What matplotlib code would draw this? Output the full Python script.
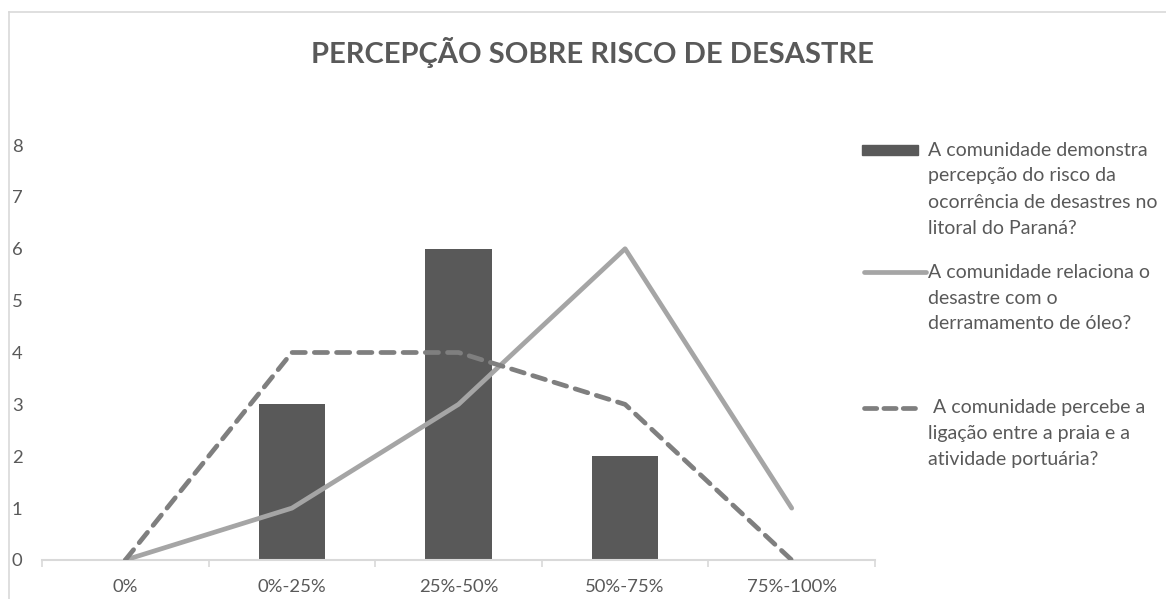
import numpy as np
import matplotlib
matplotlib.use("Agg")
import matplotlib.pyplot as plt
from matplotlib.lines import Line2D
from matplotlib.patches import Rectangle

plt.rcParams['font.family'] = ['Lato', 'DejaVu Sans']

# Data
categories = ["0%", "0%-25%", "25%-50%", "50%-75%", "75%-100%"]
percepcao_risco = [0, 3, 6, 2, 0]
derramamento_oleo = [0, 1, 3, 6, 1]
ligacao_porto = [0, 4, 4, 3, 0]

labels = [
    "A comunidade demonstra\npercepção do risco da\nocorrência de desastres no\nlitoral do Paraná?",
    "A comunidade relaciona o\ndesastre com o\nderramamento de óleo?",
    " A comunidade percebe a\nligação entre a praia e a\natividade portuária?",
]

bar_color = "#595959"
solid_color = "#a5a5a5"
dash_color = "#7f7f7f"
text_color = "#595959"

W, H = 1166, 599
fig = plt.figure(figsize=(W / 100, H / 100), dpi=100)
ax = fig.add_axes([42 / W, 1 - 560 / H, (875 - 42) / W, (560 - 145) / H])

x = np.arange(len(categories))
ax.bar(x, percepcao_risco, width=0.4, color=bar_color, zorder=2)
ax.plot(x, derramamento_oleo, color=solid_color, lw=3.4, solid_capstyle='round',
        solid_joinstyle='round', zorder=3)
ax.plot(x, ligacao_porto, color=dash_color, lw=3.4, dashes=(2.8, 1.9), dash_capstyle='round',
        dash_joinstyle='round', zorder=3)

ax.set_xlim(-0.5, len(categories) - 0.5)
ax.set_ylim(0, 8)
ax.set_yticks(range(0, 9))
ax.set_xticks(x)
ax.set_xticklabels(categories)
ax.set_xticks(np.arange(-0.5, len(categories)), minor=True)
ax.tick_params(axis='x', which='major', length=0, pad=14, labelsize=13.3, labelcolor=text_color)
ax.tick_params(axis='x', which='minor', length=5, color="#d9d9d9", width=1.2)
ax.tick_params(axis='y', length=0, pad=14, labelsize=13.3, labelcolor=text_color)
for s in ['top', 'right', 'left']:
    ax.spines[s].set_visible(False)
ax.spines['bottom'].set_color("#d9d9d9")
ax.spines['bottom'].set_linewidth(1.5)

# Title
fig.text(592 / W, 1 - 52 / H, "PERCEPÇÃO SOBRE RISCO DE DESASTRE", ha='center', va='center',
         fontsize=21, fontweight='bold', color=text_color)

# Chart frame (left and top borders)
fig.add_artist(Line2D([9 / W, 9 / W], [0, 1 - 12 / H], transform=fig.transFigure,
                      color="#d9d9d9", lw=1.2))
fig.add_artist(Line2D([9 / W, 1], [1 - 12 / H, 1 - 12 / H], transform=fig.transFigure,
                      color="#d9d9d9", lw=1.2))

# Legend drawn by hand
line_gap = 26
fig.add_artist(Rectangle((862 / W, 1 - 155 / H), 56 / W, 10 / H, transform=fig.transFigure,
                         color=bar_color))
fig.add_artist(Line2D([864 / W, 926 / W], [1 - 272 / H] * 2, transform=fig.transFigure,
                      color=solid_color, lw=3.4, solid_capstyle='round'))
fig.add_artist(Line2D([864 / W, 918 / W], [1 - 408 / H] * 2, transform=fig.transFigure,
                      color=dash_color, lw=3.4, dashes=(2.6, 1.5), dash_capstyle='round'))
for y0, lab in zip([150, 272, 408], labels):
    for i, ln in enumerate(lab.split("\n")):
        fig.text(928 / W, 1 - (y0 + i * line_gap) / H, ln, ha='left', va='center',
                 fontsize=14, color=text_color)

fig.savefig("out.png", dpi=100)
